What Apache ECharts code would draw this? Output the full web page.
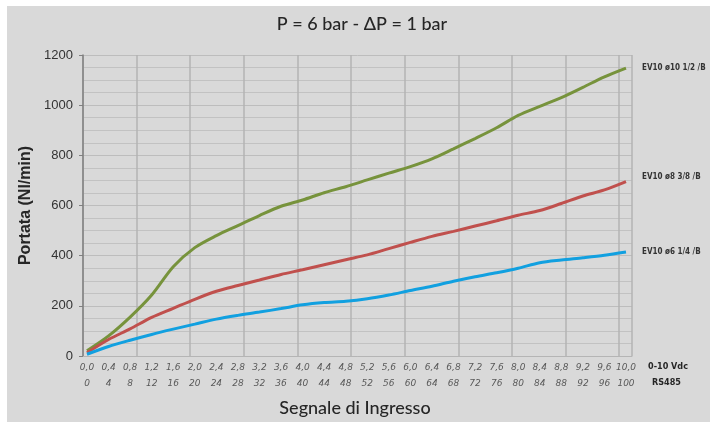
<!DOCTYPE html>
<html>
<head>
<meta charset="utf-8">
<script src="https://cdn.jsdelivr.net/npm/echarts@6/dist/echarts.min.js"></script>
<style>
  html, body { margin: 0; padding: 0; background: #fff; }
  #main { width: 710px; height: 422px; }
</style>
</head>
<body>
<div id="main"></div>
<script>
// segnale RS485 (0-100) -> 0-10 Vdc = rs485 / 10
const rs485 = [0, 4, 8, 12, 16, 20, 24, 28, 32, 36, 40, 44, 48, 52, 56, 60, 64, 68, 72, 76, 80, 84, 88, 92, 96, 100];

// portata Nl/min
const ev10_10 = [21, 80, 155, 243, 356, 432, 480, 520, 560, 597, 622, 651, 675, 702, 729, 755, 786, 826, 867, 910, 959, 995, 1030, 1071, 1113, 1148];
const ev10_8  = [13, 66, 108, 154, 190, 226, 258, 281, 303, 325, 344, 364, 384, 403, 428, 453, 477, 497, 518, 539, 561, 580, 608, 638, 662, 695];
const ev10_6  = [7, 38, 63, 86, 107, 127, 147, 162, 175, 189, 204, 213, 218, 228, 243, 261, 278, 298, 316, 332, 350, 372, 383, 392, 402, 415];

const seriesNames = ['EV10 ø10 1/2 /B', 'EV10 ø8 3/8 /B', 'EV10 ø6 1/4 /B'];
const colors = ['#77933c', '#c0504d', '#11a0e0'];

function pairs(ys) {
  return rs485.map((x, i) => [x, ys[i]]);
}

const chart = echarts.init(document.getElementById('main'));

const mkSeries = (name, ys, color, dy) => ({
  name: name,
  type: 'line',
  xAxisIndex: 1,
  yAxisIndex: 1,
  data: pairs(ys),
  smooth: 0.3,
  symbol: 'none',
  lineStyle: { color: color, width: 3 },
  endLabel: {
    show: true,
    formatter: name,
    distance: 16,
    offset: [0, dy],
    fontFamily: 'DejaVu Sans Condensed',
    fontWeight: 'bold',
    fontSize: 8,
    color: '#333'
  },
  z: 5
});

chart.setOption({
  animation: false,
  backgroundColor: '#ffffff',
  title: {
    text: 'P = 6 bar - ΔP = 1 bar',
    left: 357,
    textAlign: 'center',
    top: 10,
    textStyle: { fontFamily: 'Lato', fontSize: 18, fontWeight: 500, color: '#262626' }
  },
  graphic: [
    { type: 'rect', z: -10, shape: { x: 7, y: 6, width: 703, height: 416 }, style: { fill: '#d9d9d9' } },
    { type: 'text', left: 648, top: 362, style: { text: '0-10 Vdc', font: 'bold 9px "DejaVu Sans Condensed"', fill: '#262626' } },
    { type: 'text', left: 652, top: 378, style: { text: 'RS485', font: 'bold 9px "DejaVu Sans Condensed"', fill: '#262626' } },
    { type: 'text', left: 'center', top: 399, style: { text: 'Segnale di Ingresso', font: '500 18px Lato', fill: '#262626' } }
  ],
  grid: [
    { left: 83, top: 55, width: 549, height: 301 },
    { left: 87, top: 55, width: 539, height: 301 }
  ],
  xAxis: [
    {
      gridIndex: 0, type: 'value', min: 0, max: 102.4, interval: 10,
      axisLabel: { show: false },
      axisTick: { show: false },
      axisLine: { show: true, lineStyle: { color: '#b5b5b5', width: 1 } },
      splitLine: { show: true, lineStyle: { color: '#b3b3b3', width: 1.5 } }
    },
    {
      gridIndex: 1, type: 'value', min: 0, max: 100, interval: 4,
      axisLine: { show: false },
      axisTick: { show: false },
      splitLine: { show: false },
      axisLabel: {
        margin: 4,
        fontFamily: 'DejaVu Sans',
        fontStyle: 'italic',
        fontSize: 9,
        lineHeight: 16,
        color: '#595959',
        formatter: v => (v / 10).toFixed(1).replace('.', ',') + '\n' + v
      }
    }
  ],
  yAxis: [
    {
      gridIndex: 0, type: 'value', min: 0, max: 1200, interval: 200,
      name: 'Portata (Nl/min)',
      nameLocation: 'middle',
      nameGap: 44,
      nameTextStyle: { fontFamily: 'Liberation Sans', fontWeight: 'bold', fontSize: 16, color: '#262626' },
      axisLine: { show: true, lineStyle: { color: '#808080', width: 1.5 } },
      axisTick: { show: true, length: 4, lineStyle: { color: '#808080' } },
      axisLabel: { fontFamily: 'Liberation Sans', fontSize: 13, color: '#333', margin: 10, formatter: v => String(v) },
      splitLine: { show: true, lineStyle: { color: '#bdbdbd', width: 1 } },
      minorTick: { show: false, splitNumber: 4 },
      minorSplitLine: { show: true, lineStyle: { color: '#c2c2c2', width: 1 } }
    },
    {
      gridIndex: 1, type: 'value', min: 0, max: 1200,
      show: false
    }
  ],
  series: [
    mkSeries(seriesNames[0], ev10_10, colors[0], 0),
    mkSeries(seriesNames[1], ev10_8, colors[1], -5),
    mkSeries(seriesNames[2], ev10_6, colors[2], 0)
  ]
});
</script>
</body>
</html>
